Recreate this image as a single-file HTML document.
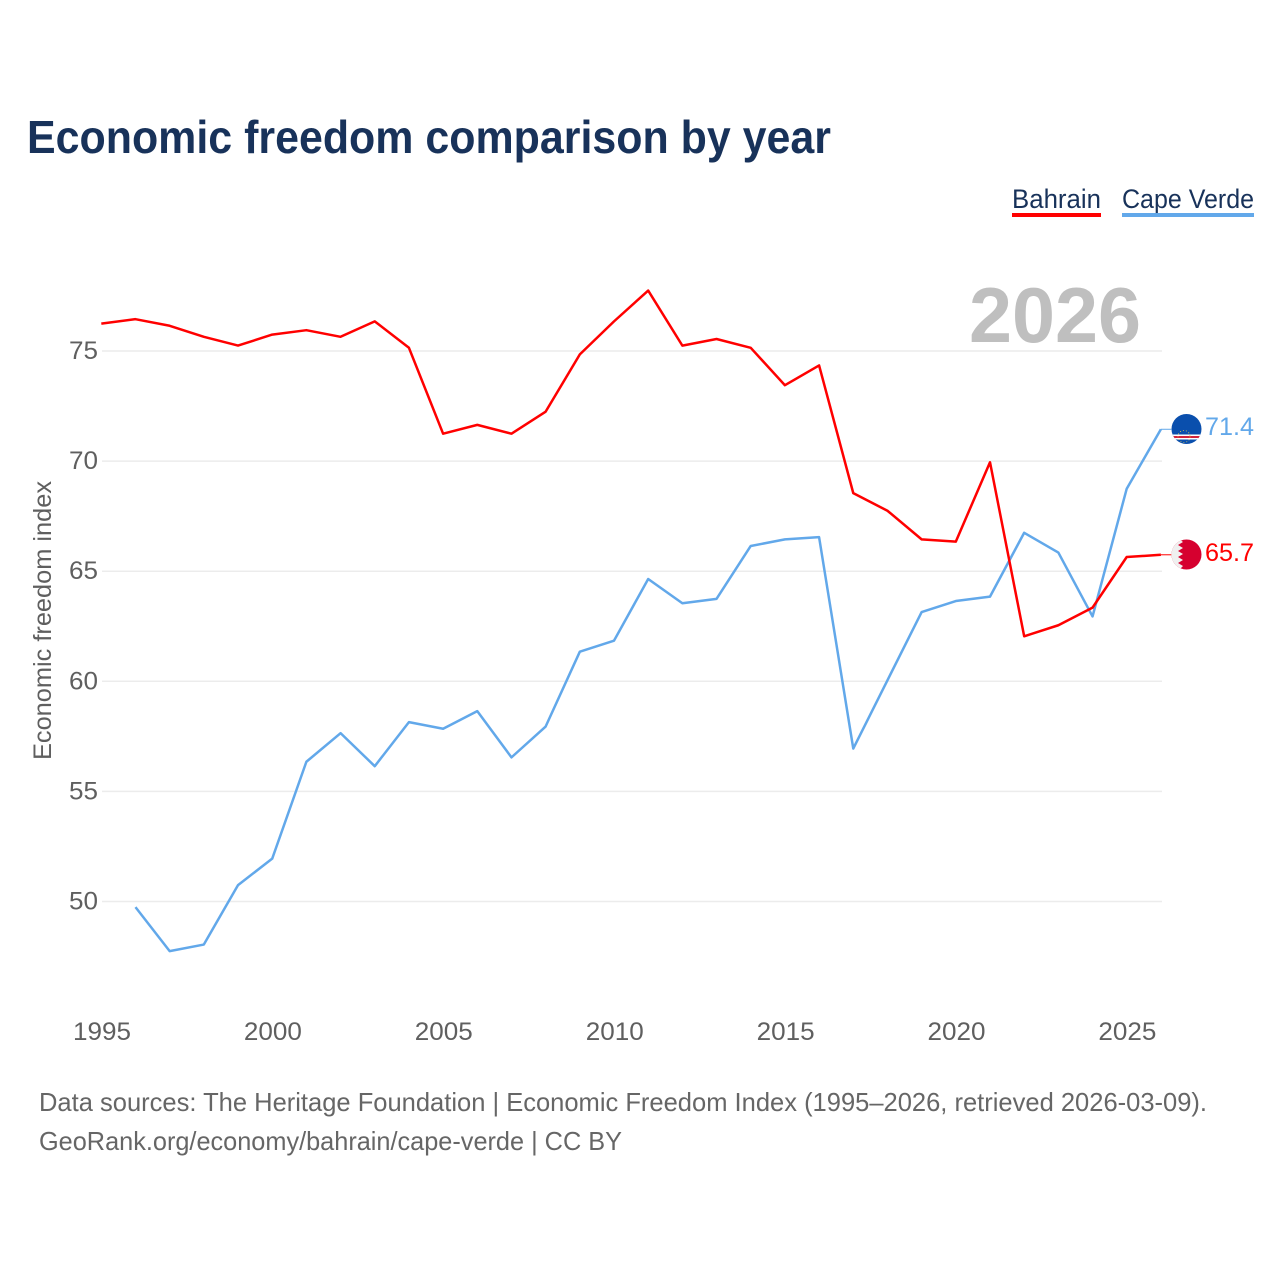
<!DOCTYPE html>
<html lang="en">
<head>
<meta charset="utf-8">
<title>Economic freedom comparison by year</title>
<style>
html,body{margin:0;padding:0;background:#fff;width:1280px;height:1280px;overflow:hidden}
svg{display:block}
text{font-family:"Liberation Sans",sans-serif}
</style>
</head>
<body>
<svg id="chart" width="1280" height="1280" viewBox="0 0 1280 1280" xmlns="http://www.w3.org/2000/svg">
  <rect width="1280" height="1280" fill="#fff"/>
  <text x="27" y="153" font-size="46" font-weight="700" fill="#18325a" textLength="804" lengthAdjust="spacingAndGlyphs">Economic freedom comparison by year</text>

  <g>
    <text x="1012" y="208" font-size="27" fill="#18325a" textLength="89" lengthAdjust="spacingAndGlyphs">Bahrain</text>
    <rect x="1012" y="213" width="89" height="4" fill="#ff0000"/>
  </g>
  <g>
    <text x="1122" y="208" font-size="27" fill="#18325a" textLength="132" lengthAdjust="spacingAndGlyphs">Cape Verde</text>
    <rect x="1122" y="213" width="132" height="4" fill="#62a8ea"/>
  </g>

  <g id="grid"></g>
  <g id="yticks"></g>
  <g id="xticks"></g>

  <text x="969" y="342" font-size="78" font-weight="700" fill="#bfbfbf" textLength="172" lengthAdjust="spacingAndGlyphs">2026</text>
  <text transform="translate(51,760) rotate(-90)" font-size="25" fill="#5f5f5f" textLength="279" lengthAdjust="spacingAndGlyphs">Economic freedom index</text>

  <g id="series" transform="translate(-0.7,-1)"></g>

  <defs>
    <clipPath id="clip-cv"><circle cx="1186.5" cy="429" r="15"/></clipPath>
    <clipPath id="clip-bh"><circle cx="1186.5" cy="554.5" r="15"/></clipPath>
  </defs>

  <g clip-path="url(#clip-cv)">
    <rect x="1171" y="413" width="31" height="32" fill="#0a4fad"/>
    <rect x="1171" y="434.5" width="31" height="5" fill="#fff"/>
    <rect x="1171" y="436" width="31" height="2" fill="#d2233c"/>
    <circle cx="1184" cy="436.5" r="6" fill="none" stroke="#e6c84a" stroke-width="0.8" stroke-dasharray="1 2"/>
  </g>
  <g clip-path="url(#clip-bh)">
    <rect x="1171" y="539" width="31" height="31" fill="#d6002f"/>
    <polygon points="1171,539 1179,539 1183,542 1178,545 1183,548 1178,551 1183,554 1178,557 1183,560 1178,563 1183,566 1179,570 1171,570" fill="#f0f0f0"/>
  </g>

  <text id="value-cape-verde" x="1205" y="435" font-size="25" fill="#62a8ea" textLength="49" lengthAdjust="spacingAndGlyphs"></text>
  <text id="value-bahrain" x="1205" y="561" font-size="25" fill="#ff0000" textLength="49" lengthAdjust="spacingAndGlyphs"></text>

  <text x="39" y="1111" font-size="26" fill="#666666" textLength="1168" lengthAdjust="spacingAndGlyphs">Data sources: The Heritage Foundation | Economic Freedom Index (1995–2026, retrieved 2026-03-09).</text>
  <text x="39" y="1150" font-size="26" fill="#666666" textLength="583" lengthAdjust="spacingAndGlyphs">GeoRank.org/economy/bahrain/cape-verde | CC BY</text>
</svg>
<script>
const years = [1995,1996,1997,1998,1999,2000,2001,2002,2003,2004,2005,2006,2007,2008,2009,2010,2011,2012,2013,2014,2015,2016,2017,2018,2019,2020,2021,2022,2023,2024,2025,2026];
const bahrain = [76.2,76.4,76.1,75.6,75.2,75.7,75.9,75.6,76.3,75.1,71.2,71.6,71.2,72.2,74.8,76.3,77.7,75.2,75.5,75.1,73.4,74.3,68.5,67.7,66.4,66.3,69.9,62.0,62.5,63.3,65.6,65.7];
const capeVerde = [null,49.7,47.7,48.0,50.7,51.9,56.3,57.6,56.1,58.1,57.8,58.6,56.5,57.9,61.3,61.8,64.6,63.5,63.7,66.1,66.4,66.5,56.9,60.0,63.1,63.6,63.8,66.7,65.8,62.9,68.7,71.4];
const yTickValues = [50,55,60,65,70,75];
const xTickValues = [1995,2000,2005,2010,2015,2020,2025];

const NS = 'http://www.w3.org/2000/svg';
function xScale(year){ return 102 + (year - 1995) * (1161.6 - 102) / (2026 - 1995); }
function yScale(v){ return 351 + (75 - v) * (901.5 - 351) / 25; }
function make(tag, attrs, parent){
  const el = document.createElementNS(NS, tag);
  for (const k in attrs) el.setAttribute(k, attrs[k]);
  parent.appendChild(el);
  return el;
}
const grid = document.getElementById('grid');
const yticks = document.getElementById('yticks');
const xticks = document.getElementById('xticks');
const series = document.getElementById('series');

yTickValues.forEach(function(v){
  const line = make('line', {x1:102, x2:1162, y1:yScale(v), y2:yScale(v), stroke:'#ececec', 'stroke-width':1.5}, grid);
  
  
  const t = make('text', {x:98, y:yScale(v)+8, 'text-anchor':'end', 'font-size':25, fill:'#5f5f5f', textLength:29, lengthAdjust:'spacingAndGlyphs'}, yticks);
  
  
  t.textContent = v;
});
xTickValues.forEach(function(y){
  const t = make('text', {x:xScale(y), y:1040, 'text-anchor':'middle', 'font-size':25, fill:'#5f5f5f', textLength:58, lengthAdjust:'spacingAndGlyphs'}, xticks);
  
  
  t.textContent = y;
});
function linePath(values){
  const pts = [];
  values.forEach(function(v, i){
    if (v !== null) pts.push(xScale(years[i]).toFixed(2) + ',' + yScale(v).toFixed(2));
  });
  return pts.join(' ');
}
const lineCv = make('polyline', {points:linePath(capeVerde), fill:'none', stroke:'#62a8ea', 'stroke-width':2.5, 'stroke-linejoin':'round'}, series);


const lineBh = make('polyline', {points:linePath(bahrain), fill:'none', stroke:'#ff0000', 'stroke-width':2.5, 'stroke-linejoin':'round'}, series);



const lastX = xScale(years[years.length - 1]);
const lastCv = capeVerde[capeVerde.length - 1];
const lastBh = bahrain[bahrain.length - 1];
const connCv = make('line', {x1:lastX, x2:1172, y1:yScale(lastCv), y2:yScale(lastCv), stroke:'#62a8ea', 'stroke-width':1}, series);


const connBh = make('line', {x1:lastX, x2:1172, y1:yScale(lastBh), y2:yScale(lastBh), stroke:'#ff0000', 'stroke-width':1}, series);


document.getElementById('value-cape-verde').textContent = lastCv.toFixed(1);
document.getElementById('value-bahrain').textContent = lastBh.toFixed(1);
</script>
</body>
</html>
